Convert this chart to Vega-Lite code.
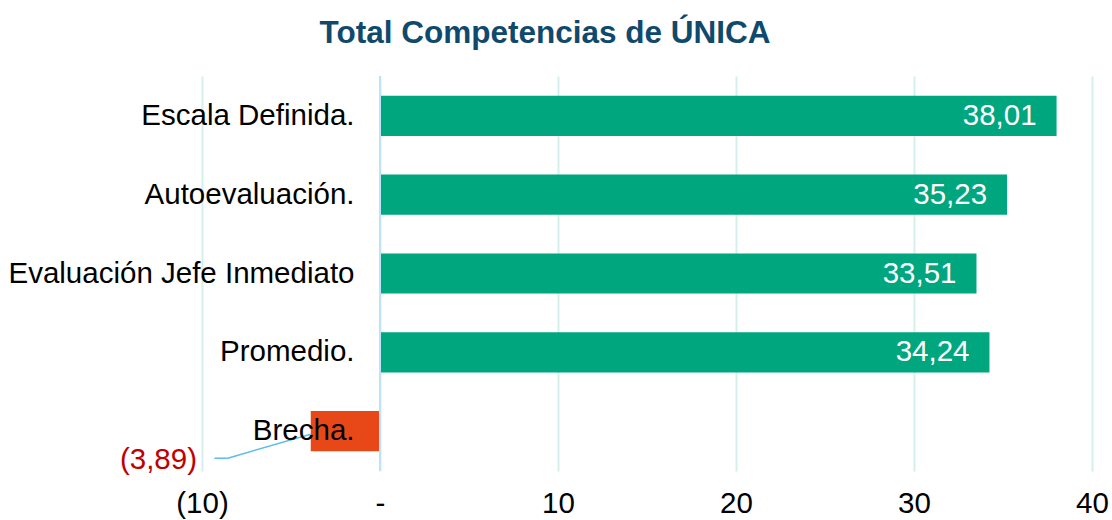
{
  "$schema": "https://vega.github.io/schema/vega-lite/v6.json",
  "autosize": "none",
  "width": 890,
  "height": 395,
  "padding": {"left": 202, "top": 76, "right": 20, "bottom": 49},
  "background": "white",
  "config": {"view": {"stroke": null}, "font": "Liberation Sans"},
  "title": {"text": "Total Competencias de ÚNICA", "fontSize": 31.5, "fontWeight": "bold", "color": "#0F4A6C", "font": "Liberation Sans", "anchor": "middle", "dx": -102, "offset": 26},
  "data": {"values": [
    {"cat": "Escala Definida.", "v": 38.01, "label": "38,01", "kind": "pos"},
    {"cat": "Autoevaluación.", "v": 35.23, "label": "35,23", "kind": "pos"},
    {"cat": "Evaluación Jefe Inmediato", "v": 33.51, "label": "33,51", "kind": "pos"},
    {"cat": "Promedio.", "v": 34.24, "label": "34,24", "kind": "pos"},
    {"cat": "Brecha.", "v": -3.89, "label": "(3,89)", "kind": "neg"}
  ]},
  "encoding": {
    "y": {"field": "cat", "type": "nominal", "sort": null,
      "scale": {"paddingInner": 0.49, "paddingOuter": 0.25},
      "axis": {"title": null, "orient": "left", "offset": -178, "domain": false, "ticks": false, "labelPadding": 26, "labelFontSize": 29.5, "labelColor": "#000000", "labelFont": "Liberation Sans", "zindex": 1, "labelLimit": 600}}
  },
  "layer": [
    {
      "mark": {"type": "bar"},
      "encoding": {
        "x": {"field": "v", "type": "quantitative",
          "scale": {"domain": [-10, 40], "nice": false},
          "axis": {"title": null, "values": [-10, 0, 10, 20, 30, 40], "domain": false, "ticks": false, "grid": true, "gridColor": "#D5F0EC", "gridWidth": 2, "labelFontSize": 29.5, "labelColor": "#000000", "labelPadding": 18, "labelFont": "Liberation Sans", "labelFlush": false,
            "labelExpr": "datum.value < 0 ? '(' + abs(datum.value) + ')' : datum.value == 0 ? '-' : datum.label"}},
        "color": {"field": "kind", "type": "nominal", "scale": {"domain": ["pos", "neg"], "range": ["#00A67E", "#E84818"]}, "legend": null}
      }
    },
    {
      "mark": {"type": "rule", "color": "#BDE3F7", "strokeWidth": 2},
      "encoding": {"x": {"datum": 0, "type": "quantitative"}, "y": null}
    },
    {
      "transform": [{"filter": "datum.kind == 'pos'"}],
      "mark": {"type": "text", "align": "right", "baseline": "middle", "dx": -20, "fontSize": 29.5, "color": "#FFFFFF", "font": "Liberation Sans"},
      "encoding": {"x": {"field": "v", "type": "quantitative"}, "text": {"field": "label"}}
    },
    {
      "transform": [{"filter": "datum.kind == 'neg'"}],
      "mark": {"type": "text", "align": "right", "baseline": "middle", "dx": -5, "yOffset": 29, "fontSize": 29.5, "color": "#C00000", "font": "Liberation Sans"},
      "encoding": {"x": {"datum": -10, "type": "quantitative"}, "text": {"field": "label"}}
    },
    {
      "transform": [{"filter": "datum.kind == 'neg'"}],
      "mark": {"type": "rule", "color": "#5BBCF0", "strokeWidth": 1.5, "yOffset": 3, "y2Offset": 27},
      "encoding": {"x": {"datum": -3.9, "type": "quantitative"}, "x2": {"datum": -8.55}, "y2": {"field": "cat"}}
    },
    {
      "transform": [{"filter": "datum.kind == 'neg'"}],
      "mark": {"type": "rule", "color": "#5BBCF0", "strokeWidth": 1.5, "yOffset": 27, "y2Offset": 27},
      "encoding": {"x": {"datum": -8.55, "type": "quantitative"}, "x2": {"datum": -9.3}, "y2": {"field": "cat"}}
    }
  ]
}
